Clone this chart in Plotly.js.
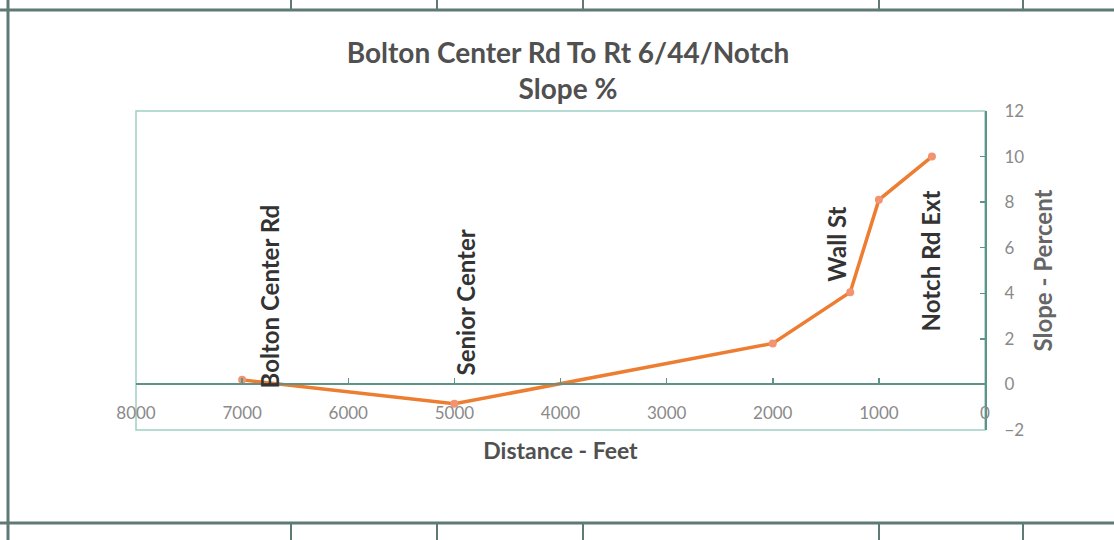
<!DOCTYPE html>
<html>
<head>
<meta charset="utf-8">
<script src="https://cdn.plot.ly/plotly-3.0.1.min.js"></script>
<style>
  html, body { margin: 0; padding: 0; background: #ffffff; }
  #chart { width: 1114px; height: 540px; }
</style>
</head>
<body>
<div id="chart"></div>
<script>
// ---- data ----
var distanceFeet = [7000, 5000, 2000, 1270, 1000, 500];
var slopePercent = [0.2, -0.85, 1.8, 4.05, 8.1, 10.0];

var landmarkNames = ["Bolton Center Rd", "Senior Center", "Wall St", "Notch Rd Ext"];

var xTickVals = [8000, 7000, 6000, 5000, 4000, 3000, 2000, 1000, 0];
var yTickVals = [-2, 0, 2, 4, 6, 8, 10, 12];

// ---- layout / styling ----
var W = 1114, H = 540;
var M = { l: 136, r: 129, t: 111, b: 110 };
var plotW = W - M.l - M.r, plotH = H - M.t - M.b;
function px(p) { return (p - M.l) / plotW; }      // page pixel -> paper x
function py(p) { return (H - M.b - p) / plotH; }  // page pixel -> paper y

var yRange = [-2, 12];
var zeroPos = (0 - yRange[0]) / (yRange[1] - yRange[0]);

// label placement (data coordinates) for the vertical landmark labels
var landmarkPlacement = [
  { x: 6740, y: 3.85 },
  { x: 4900, y: 3.6 },
  { x: 1400, y: 6.15 },
  { x: 518,  y: 5.4 }
];

var teal = '#5e9487';
var frameTeal = '#9fd0c3';
var tickGrey = '#8a8a8a';
var textDark = '#333333';
var fontFam = 'Lato, "Open Sans", sans-serif';

var annotations = landmarkNames.map(function (name, i) {
  return {
    text: name, xref: 'x', yref: 'y',
    x: landmarkPlacement[i].x, y: landmarkPlacement[i].y,
    textangle: -90, showarrow: false,
    xanchor: 'center', yanchor: 'middle',
    font: { family: fontFam, size: 24, color: textDark, weight: 'bold' }
  };
});

// decorative scanned-table rules around the chart
var tableX = [291, 437, 583, 879, 1023];
var ruleColor = '#5f7a74';
var shapes = [
  { type: 'rect', xref: 'paper', yref: 'paper', x0: 0, x1: 1, y0: 0, y1: 1,
    line: { color: frameTeal, width: 1.5 }, layer: 'below' },
  { type: 'line', xref: 'paper', yref: 'paper', x0: px(0), x1: px(W), y0: py(10), y1: py(10),
    line: { color: ruleColor, width: 3 } },
  { type: 'line', xref: 'paper', yref: 'paper', x0: px(0), x1: px(W), y0: py(523), y1: py(523),
    line: { color: ruleColor, width: 3 } },
  { type: 'line', xref: 'paper', yref: 'paper', x0: px(8), x1: px(8), y0: py(0), y1: py(540),
    line: { color: ruleColor, width: 3 } }
];
tableX.forEach(function (xp) {
  shapes.push({ type: 'line', xref: 'paper', yref: 'paper', x0: px(xp), x1: px(xp), y0: py(0), y1: py(10),
    line: { color: ruleColor, width: 2 } });
  shapes.push({ type: 'line', xref: 'paper', yref: 'paper', x0: px(xp), x1: px(xp), y0: py(523), y1: py(540),
    line: { color: ruleColor, width: 2 } });
});

var trace = {
  x: distanceFeet, y: slopePercent,
  type: 'scatter', mode: 'lines+markers',
  line: { color: '#ED7D31', width: 3.5 },
  marker: { color: '#F29372', size: 8, symbol: 'circle' },
  cliponaxis: false,
  hoverinfo: 'x+y'
};

var layout = {
  width: W, height: H,
  margin: M,
  paper_bgcolor: '#ffffff',
  plot_bgcolor: '#ffffff',
  showlegend: false,
  font: { family: fontFam, color: tickGrey },
  title: {
    text: 'Bolton Center Rd To Rt 6/44/Notch<br>Slope %',
    x: px(568), xref: 'paper', xanchor: 'center',
    y: 1 - 63 / H, yanchor: 'middle',
    font: { family: fontFam, size: 28, color: '#505050', weight: 'bold' }
  },
  xaxis: {
    range: [8000, 0],
    tickvals: xTickVals,
    ticktext: xTickVals.map(String),
    anchor: 'free', position: zeroPos,
    showline: true, linecolor: teal, linewidth: 2,
    ticks: 'inside', ticklen: 5, tickcolor: teal, tickwidth: 1.5,
    ticklabelstandoff: 13,
    tickfont: { family: fontFam, size: 17, color: tickGrey },
    showgrid: false, zeroline: false,
    title: { text: 'Distance - Feet', standoff: 20,
      font: { family: fontFam, size: 23, color: '#505050', weight: 'bold' } }
  },
  yaxis: {
    range: yRange,
    tickvals: yTickVals,
    side: 'right',
    showline: true, linecolor: teal, linewidth: 2,
    ticks: 'inside', ticklen: 5, tickcolor: teal, tickwidth: 1.5,
    ticklabelstandoff: 14,
    tickfont: { family: fontFam, size: 17, color: tickGrey },
    showgrid: false, zeroline: false,
    title: { text: 'Slope - Percent', standoff: 12,
      font: { family: fontFam, size: 24, color: '#666666', weight: 'bold' } }
  },
  annotations: annotations,
  shapes: shapes
};

Plotly.newPlot('chart', [trace], layout, { displayModeBar: false, staticPlot: true });
</script>
</body>
</html>
